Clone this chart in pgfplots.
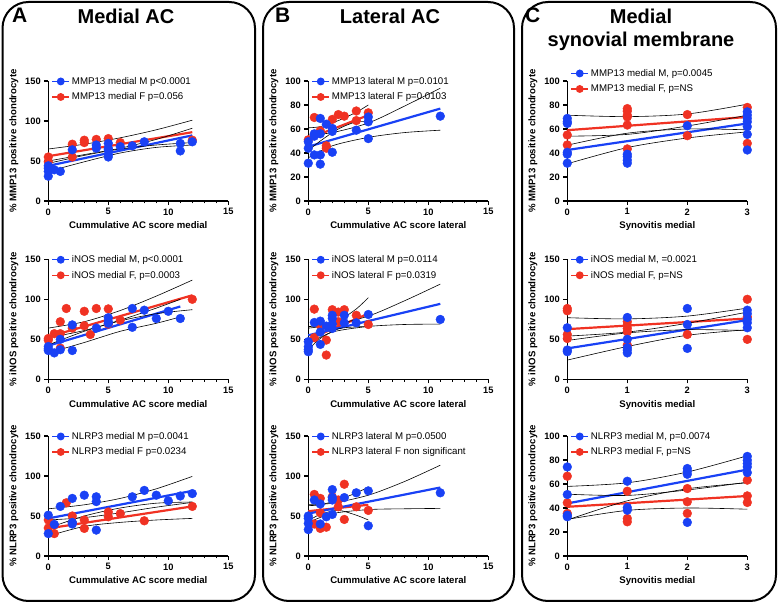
\documentclass[border=0pt]{standalone}
\usepackage{fontspec}
\setmainfont{Liberation Sans}
\usepackage{pgfplots}
\pgfplotsset{compat=1.18}
\definecolor{gpblue}{RGB}{25,65,245}
\definecolor{gpred}{RGB}{240,50,35}
\pgfplotsset{
 gp/.style={scale only axis, width=180pt, height=120pt, axis lines*=left,
   axis line style={line width=1.3pt, black}, tick align=outside,
   major tick length=4pt, minor tick length=2.5pt, tick style={black, line width=1.1pt},
   xmin=0, ymin=0, clip=false,
   ticklabel style={font=\fontsize{9.3}{10}\selectfont\bfseries},
   every axis label/.append style={font=\fontsize{9.6}{11}\selectfont\bfseries},
   /pgf/number format/assume math mode=true,
   legend style={draw=none, fill=none, font=\fontsize{9.7}{11}\selectfont,
     at={(0.0,1)}, anchor=north west, yshift=8pt, row sep=3pt},
   legend cell align=left},
 ac/.style={gp, xmax=15, xtick={0,5,10,15}, minor xtick={1,2,3,4,6,7,8,9,11,12,13,14}},
 sy/.style={gp, xmax=3, xtick={0,1,2,3}},
 bd/.style={black, line width=0.6pt, smooth, no markers, forget plot},
 bdot/.style={only marks, mark=*, mark size=4.4pt, gpblue, forget plot},
 rdot/.style={only marks, mark=*, mark size=4.4pt, gpred, forget plot},
 bln/.style={gpblue, line width=2.2pt, no markers, forget plot},
 rln/.style={gpred, line width=2.2pt, no markers, forget plot},
}
\newcommand{\lgb}{\addlegendimage{gpblue, line width=1.4pt, mark=*, mark size=3.2pt, mark options={solid}}}
\newcommand{\lgr}{\addlegendimage{gpred, line width=1.4pt, mark=*, mark size=3.2pt, mark options={solid}}}
\begin{document}
\begin{tikzpicture}[x=1pt,y=1pt]
\useasboundingbox (0,0) rectangle (778,604);
\draw[line width=2pt, rounded corners=26pt] (2.5,3) rectangle (255,602);
\draw[line width=2pt, rounded corners=26pt] (263,3) rectangle (514,602);
\draw[line width=2pt, rounded corners=26pt] (522,3) rectangle (776,602);
\node[anchor=base west, font=\fontsize{21}{24}\selectfont\bfseries, inner sep=0pt] at (12,581) {A};
\node[anchor=base, font=\fontsize{20}{24}\selectfont\bfseries, inner sep=0pt] at (126,580) {Medial AC};
\node[anchor=base west, font=\fontsize{21}{24}\selectfont\bfseries, inner sep=0pt] at (275,581) {B};
\node[anchor=base, font=\fontsize{20}{24}\selectfont\bfseries, inner sep=0pt] at (390,580) {Lateral AC};
\node[anchor=base west, font=\fontsize{21}{24}\selectfont\bfseries, inner sep=0pt] at (525,581) {C};
\node[anchor=base, font=\fontsize{20}{24}\selectfont\bfseries, inner sep=0pt] at (641,580) {Medial};
\node[anchor=base, font=\fontsize{20}{24}\selectfont\bfseries, inner sep=0pt] at (641,557) {synovial membrane};

% ---------------- A1
\begin{axis}[ac, at={(48.3pt,403pt)}, anchor=south west, ymax=150, ytick={0,50,100,150},
  xlabel={Cummulative AC score medial}, ylabel={\% MMP13 positive chondrocyte}]
\lgb\addlegendentry{MMP13 medial M p<0.0001}
\lgr\addlegendentry{MMP13 medial F p=0.056}
\addplot[rdot] coordinates {(0,55)(0,49)(2,71)(2,55)(3,76)(3,73)(4,77)(5,78)(6,73)(12,76)};
\addplot[bdot] coordinates {(0,41)(0,31)(0,37)(0,44)(0.5,39)(1,37)(2,64)(4,70)(4,66)(5,72)(5,66)(5,64)(5,58)(5,55)(6,68)(7,69)(8,74)(11,72)(11,62.6)(12,74)};
\addplot[rln] coordinates {(0,56)(12,86)};
\addplot[bln] coordinates {(0,44)(12,82)};
\addplot[bd] coordinates {(0,65)(3,71)(6,79)(9,89)(12,101)};
\addplot[bd] coordinates {(0,47)(3,57)(6,65)(9,70)(12,73)};
\addplot[bd] coordinates {(0,50)(3,58)(6,66)(9,77)(12,91)};
\addplot[bd] coordinates {(0,37)(3,49)(6,60)(9,67)(12,70)};
\end{axis}

% ---------------- A2
\begin{axis}[ac, at={(48.3pt,224.7pt)}, anchor=south west, ymax=150, ytick={0,50,100,150},
  xlabel={Cummulative AC score medial}, ylabel={\% iNOS positive chondrocyte}]
\lgb\addlegendentry{iNOS medial M, p<0.0001}
\lgr\addlegendentry{iNOS medial F, p=0.0003}
\addplot[rdot] coordinates {(0,49)(0,51)(0.5,57)(1,72)(1,57)(1,39)(1.5,88.5)(2,64)(3,85)(3,67)(3.5,56)(4,88.5)(5,88)(5,69)(6,74)(12,100)};
\addplot[bdot] coordinates {(0,38)(0,41)(0,36)(0.5,33)(1,37)(1,50)(2,36)(2,68)(4,64)(5,77)(5,72)(5,70)(7,88.5)(7,65)(8,86.4)(9,76)(10,85)(11,76)};
\addplot[rln] coordinates {(0,53)(12,105)};
\addplot[bln] coordinates {(0,42)(11,91)};
\addplot[bd] coordinates {(0,64)(3,72)(6,86)(9,104)(12,124)};
\addplot[bd] coordinates {(0,43)(3,60)(6,73)(9,82)(12,87)};
\addplot[bd] coordinates {(0,52)(3,61)(6,74)(9,89)(11,100)};
\addplot[bd] coordinates {(0,33)(3,46)(6,60)(9,70)(11,78)};
\end{axis}

% ---------------- A3
\begin{axis}[ac, at={(48.3pt,48pt)}, anchor=south west, ymax=150, ytick={0,50,100,150},
  xlabel={Cummulative AC score medial}, ylabel={\% NLRP3 positive chondrocyte}]
\lgb\addlegendentry{NLRP3 medial M p=0.0041}
\lgr\addlegendentry{NLRP3 medial F p=0.0234}
\addplot[rdot] coordinates {(0,45)(0,35)(0.5,38.6)(0.5,28)(1.5,66.5)(2,50)(2,41.5)(3,45)(3,34.5)(5,55)(5,49)(6,53)(8,44)(12,62)};
\addplot[bdot] coordinates {(0,28)(0,51)(0.5,39.5)(1,62)(2,72)(2,40)(2,42)(3,76)(4,74)(4,68)(4,32.4)(7,74)(8,82)(9,76)(10,69)(11,75)(12,78)};
\addplot[rln] coordinates {(0,34.5)(12,62)};
\addplot[bln] coordinates {(0,47)(12,81.4)};
\addplot[bd] coordinates {(0,59)(3,64)(6,72)(9,84)(12,99.5)};
\addplot[bd] coordinates {(0,35)(3,50)(6,60)(9,66)(12,67.5)};
\addplot[bd] coordinates {(0,45)(3,48)(6,54)(9,61)(12,67)};
\addplot[bd] coordinates {(0,25)(3,37)(6,42)(9,45)(12,47)};
\end{axis}

% ---------------- B1
\begin{axis}[ac, at={(308.3pt,403pt)}, anchor=south west, ymax=100, ytick={0,20,40,60,80,100},
  xlabel={Cummulative AC score lateral}, ylabel={\% MMP13 positive chondrocyte}]
\lgb\addlegendentry{MMP13 lateral M p=0.0101}
\lgr\addlegendentry{MMP13 lateral F p=0.0103}
\addplot[rdot] coordinates {(0,51)(0.5,69.6)(1,58.6)(1.5,46)(1.5,44)(2,68)(2.5,72)(3,70.7)(4,75)(4,67)(5,73.5)};
\addplot[bdot] coordinates {(0,31.5)(0,44)(0,49.4)(0.5,38.4)(0.5,56)(0.5,54)(1,68.8)(1,56)(1,38.4)(1,30.7)(1.5,64)(2,60.5)(2,58)(2,40.6)(4,59)(5,70)(5,66)(5,52)(11,70.7)};
\addplot[rln] coordinates {(0,52)(5,71.5)};
\addplot[bln] coordinates {(0,45.3)(11,77)};
\addplot[bd] coordinates {(0,55)(2,57)(5,65)(8,79)(11,94)};
\addplot[bd] coordinates {(0,36)(2,46)(5,53)(8,57)(11,59)};
\addplot[bd] coordinates {(0,61)(1,62)(2.5,67)(4,74)(5,80)};
\addplot[bd] coordinates {(0,42)(1,50)(2.5,60)(4,66)(5,66)};
\end{axis}

% ---------------- B2
\begin{axis}[ac, at={(308.3pt,224.7pt)}, anchor=south west, ymax=150, ytick={0,50,100,150},
  xlabel={Cummulative AC score lateral}, ylabel={\% iNOS positive chondrocyte}]
\lgb\addlegendentry{iNOS lateral M p=0.0114}
\lgr\addlegendentry{iNOS lateral F p=0.0319}
\addplot[rdot] coordinates {(0.5,87.7)(0.5,52)(1,67.7)(1.5,49)(1.5,30.3)(2,87)(2.5,84)(3,87)(4,80)(5,68.5)(2.5,72)};
\addplot[bdot] coordinates {(0,40.7)(0,34.5)(0,47)(0,37)(0.5,71)(1,72.7)(1,59)(1,43.6)(1.5,66.5)(2,80)(2,76)(2,69)(2,63.6)(3,80)(3,70.6)(4,70.6)(5,81)(11,74.8)};
\addplot[rln] coordinates {(0,50)(5,82)};
\addplot[bln] coordinates {(0,55)(11,94.3)};
\addplot[bd] coordinates {(0,66)(2,68)(5,79)(8,98)(11,119)};
\addplot[bd] coordinates {(0,44)(2,59)(5,66)(8,68.5)(11,69)};
\addplot[bd] coordinates {(0,64)(1,66)(2.5,73)(4,88)(5,102)};
\addplot[bd] coordinates {(0,37)(1,51)(2.5,63)(4,65.5)(5,66)};
\end{axis}

% ---------------- B3
\begin{axis}[ac, at={(308.3pt,48pt)}, anchor=south west, ymax=150, ytick={0,50,100,150},
  xlabel={Cummulative AC score lateral}, ylabel={\% NLRP3 positive chondrocyte}]
\lgb\addlegendentry{NLRP3 lateral M p=0.0500}
\lgr\addlegendentry{NLRP3 lateral F non significant}
\addplot[rdot] coordinates {(0.5,77)(0.5,40)(1,72)(1,54)(1,34.5)(1.5,36)(2,74)(2.5,61.5)(2.5,70)(3,89.7)(3,45.7)(4,61.5)(5,57)};
\addplot[bdot] coordinates {(0,33)(0,40.7)(0,47)(0,50)(0.5,70)(1,65)(1,40)(1.5,49)(2,83)(2,73)(2,70)(2,52)(3,73)(4,79)(5,81.4)(5,37.8)(11,79)};
\addplot[rln] coordinates {(0,56)(5,64)};
\addplot[bln] coordinates {(0,53)(11,85.6)};
\addplot[bd] coordinates {(0,64)(2,66)(5,76)(8,93)(11,113.5)};
\addplot[bd] coordinates {(0,42)(2,53)(5,58)(8,59)(11,59.5)};
\addplot[bd] coordinates {(0,63)(1,64)(2.5,70)(4,79)(5,86)};
\addplot[bd] coordinates {(0,44)(1,52)(2.5,57)(4,51)(5,45)};
\end{axis}

% ---------------- C1
\begin{axis}[sy, at={(567.3pt,403pt)}, anchor=south west, ymax=100, ytick={0,20,40,60,80,100},
  xlabel={Synovitis medial}, ylabel={\% MMP13 positive chondrocyte},
  legend style={yshift=8pt}]
\lgb\addlegendentry{MMP13 medial M, p=0.0045}
\lgr\addlegendentry{MMP13 medial F, p=NS}
\addplot[rdot] coordinates {(0,55)(0,46.7)(1,77)(1,74.9)(1,71.5)(1,70)(1,63.3)(1,43.4)(2,72)(2,54.4)(3,78)(3,48)};
\addplot[bdot] coordinates {(0,68.8)(0,66)(0,64.6)(0,40.6)(0,31.5)(0,39)(1,31.5)(1,34)(1,37)(1,39)(2,62.7)(3,74.3)(3,71.5)(3,68.8)(3,66)(3,61.9)(3,55.5)(3,42.5)};
\addplot[rln] coordinates {(0,59)(3,70)};
\addplot[bln] coordinates {(0,42.5)(3,64.6)};
\addplot[bd] coordinates {(0,71.5)(1,70.3)(2,72.5)(3,80.7)};
\addplot[bd] coordinates {(0,46.5)(1,56.5)(2,60)(3,59.3)};
\addplot[bd] coordinates {(0,54)(1,55.5)(2,62.5)(3,71.5)};
\addplot[bd] coordinates {(0,31)(1,44.5)(2,52.5)(3,57.6)};
\end{axis}

% ---------------- C2
\begin{axis}[sy, at={(567.3pt,224.7pt)}, anchor=south west, ymax=150, ytick={0,50,100,150},
  xlabel={Synovitis medial}, ylabel={\% iNOS positive chondrocyte}]
\lgb\addlegendentry{iNOS medial M, =0.0021}
\lgr\addlegendentry{iNOS medial F, p=NS}
\addplot[rdot] coordinates {(0,88.5)(0,85.6)(0,56)(0,51)(1,72)(1,67.7)(1,63.6)(1,59.4)(1,42.8)(2,56)(3,100)(3,78)(3,49.9)};
\addplot[bdot] coordinates {(0,64.4)(0,36.6)(0,34.5)(1,77.3)(1,50)(1,39.5)(1,36.6)(1,33)(2,88.5)(2,68.5)(2,38.6)(3,86.4)(3,82)(3,74.8)(3,70.6)(3,64.4)};
\addplot[rln] coordinates {(0,62.7)(3,76)};
\addplot[bln] coordinates {(0,38.6)(3,74)};
\addplot[bd] coordinates {(0,77)(1,75.5)(2,79)(3,89)};
\addplot[bd] coordinates {(0,48.5)(1,58)(2,62)(3,61)};
\addplot[bd] coordinates {(0,54)(1,59)(2,70)(3,84)};
\addplot[bd] coordinates {(0,24)(1,41)(2,55)(3,62)};
\end{axis}

% ---------------- C3
\begin{axis}[sy, at={(567.3pt,48pt)}, anchor=south west, ymax=100, ytick={0,20,40,60,80,100},
  xlabel={Synovitis medial}, ylabel={\% NLRP3 positive chondrocyte}]
\lgb\addlegendentry{NLRP3 medial M, p=0.0074}
\lgr\addlegendentry{NLRP3 medial F, p=NS}
\addplot[rdot] coordinates {(0,66.5)(0,44.3)(0,35.5)(1,54)(1,31.3)(1,28.5)(2,56.2)(2,45.2)(2,35.5)(3,63.2)(3,50.1)(3,44.6)};
\addplot[bdot] coordinates {(0,74.2)(0,51.2)(0,34)(0,32.7)(1,62.3)(1,40.4)(1,38.2)(2,72.9)(2,70.6)(2,68.1)(2,28)(3,83)(3,79.8)(3,77)(3,74.2)(3,69.5)};
\addplot[rln] coordinates {(0,41)(3,50)};
\addplot[bln] coordinates {(0,43.8)(3,72)};
\addplot[bd] coordinates {(0,58)(1,61)(2,70)(3,83.5)};
\addplot[bd] coordinates {(0,30)(1,46)(2,56)(3,61)};
\addplot[bd] coordinates {(0,51.5)(1,50.5)(2,55)(3,61.5)};
\addplot[bd] coordinates {(0,30.5)(1,38)(2,40)(3,39)};
\end{axis}
\end{tikzpicture}
\end{document}
